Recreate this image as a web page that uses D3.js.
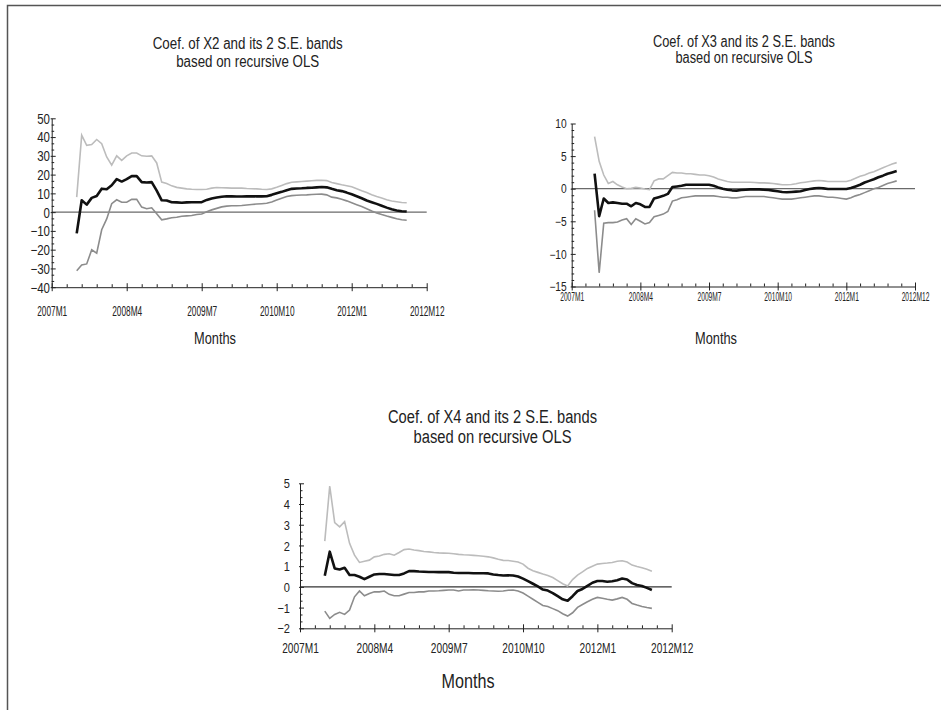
<!DOCTYPE html>
<html><head><meta charset="utf-8">
<script src="https://cdn.jsdelivr.net/npm/d3@7"></script>
<style>body{margin:0;background:#fff}svg{display:block}</style>
</head><body>
<svg id="chart" width="941" height="710"></svg>
<script>
// month index counted from 2007M1 (=0); data run from 2007M6 to 2012M12
const months = d3.range(5, 72);
const xTickValues = [0, 15, 30, 45, 60, 75];
const xTickLabels = ["2007M1", "2008M4", "2009M7", "2010M10", "2012M1", "2012M12"];
const xAxisTitle = "Months";

const x2Ticks = [-40, -30, -20, -10, 0, 10, 20, 30, 40, 50];
const x2Coef = [-11.3, 6.3, 4.0, 7.6, 8.6, 12.5, 12.2, 14.3, 17.6, 16.3,
  17.6, 19.2, 19.2, 16.0, 15.8, 16.0, 11.5, 6.3, 6.2, 5.3,
  5.2, 5.0, 5.2, 5.3, 5.3, 5.3, 6.5, 7.3, 7.8, 8.2,
  8.5, 8.4, 8.3, 8.3, 8.4, 8.5, 8.4, 8.4, 8.5, 9.2,
  10.0, 10.8, 11.7, 12.4, 12.6, 12.7, 12.9, 13.0, 13.2, 13.4,
  13.2, 12.4, 11.7, 11.2, 10.4, 9.5, 8.5, 7.4, 6.2, 5.3,
  4.4, 3.4, 2.4, 1.5, 0.9, 0.5, 0.3];
const x2Upper = [8, 41, 35.6, 36, 38.7, 36.5, 29.4, 25, 30, 27.6,
  30, 31.5, 31.5, 30, 29.8, 30, 26.2, 16, 15.2, 14,
  13.2, 12.8, 12.4, 12.2, 12.1, 12.1, 12.2, 12.8, 13.1, 13.0,
  12.9, 12.8, 12.8, 12.8, 12.6, 12.5, 12.4, 12.2, 12.1, 12.4,
  13.2, 14.2, 15.2, 15.9, 16.1, 16.3, 16.5, 16.7, 16.9, 17.0,
  16.8, 15.8, 15.2, 14.6, 14.1, 13.5, 12.5, 11.4, 10.4, 9.3,
  8.3, 7.5, 6.6, 5.9, 5.5, 5.1, 5.0];
const x2Lower = [-31.2, -28.2, -27.6, -20.1, -21.9, -9.4, -3.6, 4.5, 6.6, 5.3,
  5.3, 6.8, 6.8, 2.7, 1.8, 2.3, -0.9, -4.1, -3.6, -3.0,
  -2.7, -2.2, -2.0, -1.8, -1.3, -1.0, 0.2, 1.2, 2.0, 2.8,
  3.2, 3.4, 3.4, 3.5, 3.8, 4.1, 4.3, 4.5, 4.7, 5.4,
  6.4, 7.4, 8.3, 8.8, 9.0, 9.1, 9.2, 9.4, 9.5, 9.6,
  9.2, 8.0, 7.6, 6.9, 6.0, 5.0, 4.0, 3.0, 1.8, 0.6,
  -0.4, -1.3, -2.1, -2.8, -3.5, -4.1, -4.3];

const x3Ticks = [-15, -10, -5, 0, 5, 10];
const x3Coef = [2.3, -4.2, -1.5, -2.2, -2.1, -2.2, -2.3, -2.3, -2.7, -2.2,
  -2.4, -2.8, -2.8, -1.5, -1.3, -1.1, -0.8, 0.25, 0.35, 0.45,
  0.6, 0.6, 0.6, 0.6, 0.6, 0.6, 0.45, 0.2, 0.0, -0.15,
  -0.25, -0.3, -0.2, -0.15, -0.1, -0.1, -0.1, -0.15, -0.2, -0.3,
  -0.4, -0.5, -0.55, -0.5, -0.45, -0.4, -0.2, -0.05, 0.05, 0.1,
  0.05, -0.05, -0.05, -0.05, -0.05, -0.05, 0.1, 0.35, 0.6, 0.95,
  1.2, 1.45, 1.75, 2.0, 2.3, 2.5, 2.7];
const x3Upper = [8.0, 4.2, 2.1, 0.8, 1.1, 0.6, 0.25, 0.0, 0.05, 0.2,
  0.1, -0.05, -0.15, 1.2, 1.5, 1.5, 2.0, 2.5, 2.4, 2.4,
  2.3, 2.3, 2.2, 2.1, 2.1, 2.0, 1.8, 1.5, 1.3, 1.1,
  1.0, 1.0, 1.0, 1.0, 1.0, 0.95, 0.9, 0.9, 0.85, 0.8,
  0.7, 0.6, 0.6, 0.65, 0.75, 0.9, 1.0, 1.1, 1.2, 1.25,
  1.2, 1.1, 1.1, 1.1, 1.1, 1.1, 1.3, 1.6, 1.9, 2.1,
  2.4, 2.6, 2.9, 3.2, 3.5, 3.8, 4.0];
const x3Lower = [-3.3, -12.9, -5.3, -5.2, -5.2, -5.1, -4.8, -4.6, -5.5, -4.6,
  -5.0, -5.4, -5.2, -4.3, -4.1, -3.9, -3.5, -1.9, -1.7, -1.4,
  -1.3, -1.2, -1.1, -1.1, -1.1, -1.1, -1.1, -1.2, -1.3, -1.3,
  -1.4, -1.4, -1.3, -1.2, -1.2, -1.2, -1.2, -1.2, -1.3, -1.4,
  -1.5, -1.6, -1.6, -1.6, -1.5, -1.4, -1.3, -1.2, -1.1, -1.1,
  -1.2, -1.3, -1.3, -1.4, -1.5, -1.6, -1.4, -1.1, -0.9, -0.6,
  -0.3, 0.0, 0.2, 0.5, 0.8, 1.0, 1.2];

const x4Ticks = [-2, -1, 0, 1, 2, 3, 4, 5];
const x4Coef = [0.54, 1.70, 0.89, 0.84, 0.92, 0.57, 0.57, 0.49, 0.37, 0.49,
  0.6, 0.62, 0.62, 0.6, 0.57, 0.57, 0.65, 0.76, 0.76, 0.74,
  0.73, 0.72, 0.72, 0.71, 0.71, 0.71, 0.68, 0.67, 0.67, 0.67,
  0.66, 0.66, 0.66, 0.65, 0.6, 0.57, 0.55, 0.56, 0.55, 0.5,
  0.4, 0.28, 0.15, 0.02, -0.13, -0.18, -0.3, -0.45, -0.6, -0.67,
  -0.45, -0.2, -0.1, 0.05, 0.2, 0.28, 0.28, 0.25, 0.27, 0.32,
  0.4, 0.36, 0.18, 0.09, 0.04, -0.05, -0.15];
const x4Upper = [2.21, 4.87, 3.10, 2.90, 3.15, 2.1, 1.53, 1.18, 1.24, 1.29,
  1.45, 1.49, 1.57, 1.6, 1.53, 1.66, 1.8, 1.83, 1.78, 1.75,
  1.71, 1.69, 1.66, 1.64, 1.63, 1.62, 1.60, 1.57, 1.55, 1.54,
  1.52, 1.5, 1.48, 1.45, 1.4, 1.33, 1.28, 1.27, 1.24, 1.2,
  1.1, 0.9, 0.78, 0.7, 0.62, 0.55, 0.45, 0.3, 0.15, 0.04,
  0.35, 0.57, 0.72, 0.89, 1.0, 1.1, 1.13, 1.15, 1.18, 1.24,
  1.26, 1.2, 1.05, 0.98, 0.92, 0.85, 0.76];
const x4Lower = [-1.17, -1.52, -1.33, -1.23, -1.33, -1.12, -0.48, -0.2, -0.43, -0.32,
  -0.24, -0.24, -0.2, -0.36, -0.43, -0.43, -0.35, -0.27, -0.27, -0.24,
  -0.24, -0.2, -0.2, -0.19, -0.17, -0.15, -0.15, -0.2, -0.15, -0.15,
  -0.14, -0.15, -0.17, -0.19, -0.2, -0.21, -0.2, -0.16, -0.15, -0.2,
  -0.3, -0.45, -0.6, -0.75, -0.9, -0.95, -1.05, -1.15, -1.3, -1.41,
  -1.25, -0.99, -0.85, -0.72, -0.6, -0.51, -0.55, -0.6, -0.64, -0.58,
  -0.51, -0.6, -0.8, -0.88, -0.95, -1.0, -1.04];

const titles = {
  x2: ["Coef. of X2 and its 2 S.E. bands", "based on recursive OLS"],
  x3: ["Coef. of X3 and its 2 S.E. bands", "based on recursive OLS"],
  x4: ["Coef. of X4 and its 2 S.E. bands", "based on recursive OLS"]
};

const FONT = '"Liberation Sans Narrow","Arial Narrow","Liberation Sans",Arial,sans-serif';
const svg = d3.select("#chart");

// outer frame (only top and left edges visible)
svg.append("rect").attr("x", 7.5).attr("y", 5.5).attr("width", 1000).attr("height", 800)
  .attr("fill", "none").attr("stroke", "#555").attr("stroke-width", 1.5);

function squeeze(sel, factor) {
  sel.each(function () {
    const n = this.getComputedTextLength();
    d3.select(this).attr("textLength", n * factor).attr("lengthAdjust", "spacingAndGlyphs");
  });
}
function fitWidth(sel, w) {
  sel.attr("textLength", w).attr("lengthAdjust", "spacingAndGlyphs");
}

function drawPanel(cfg, ticks, minorStep, coef, upper, lower, title) {
  const x = d3.scaleLinear().domain([0, 75]).range([cfg.x0, cfg.x1]);
  const y = d3.scaleLinear().domain([ticks[0], ticks[ticks.length - 1]]).range([cfg.yBot, cfg.yTop]);
  const g = svg.append("g");
  const axisY = y(ticks[0]);

  // zero reference line
  g.append("line").attr("x1", x(0)).attr("x2", x(75)).attr("y1", y(0)).attr("y2", y(0))
    .attr("stroke", cfg.zeroColor).attr("stroke-width", 1.2);

  // x axis: major ticks with labels
  const xa = g.append("g").attr("transform", `translate(0,${axisY})`)
    .call(d3.axisBottom(x).tickValues(xTickValues).tickFormat((d, i) => xTickLabels[i]).tickSizeOuter(0));
  xa.select(".domain").attr("stroke", "#222");
  xa.selectAll(".tick line").attr("y1", -4).attr("y2", 4).attr("stroke", "#222");
  const xt = xa.selectAll(".tick text").attr("y", cfg.xLabBase - axisY).attr("dy", 0)
    .attr("font-family", FONT).attr("font-size", cfg.xLabSize).attr("fill", "#222");
  const refX = xt.filter((d, i) => i === 0).node().getComputedTextLength();
  squeeze(xt, cfg.xLabW / refX);
  // x axis minor ticks
  const xm = g.append("g").attr("transform", `translate(0,${axisY})`)
    .call(d3.axisBottom(x).tickValues(d3.range(0, 76, 3).filter(v => v % 15 !== 0)).tickSize(-3).tickFormat(""));
  xm.select(".domain").remove();
  xm.selectAll(".tick line").attr("stroke", "#222");

  // y axis
  const ya = g.append("g").attr("transform", `translate(${cfg.x0},0)`)
    .call(d3.axisLeft(y).tickValues(ticks).tickFormat(d3.format("d")).tickSizeOuter(0));
  ya.select(".domain").attr("stroke", "#222");
  ya.selectAll(".tick line").attr("x1", -1).attr("x2", 4).attr("stroke", "#222");
  const yt = ya.selectAll(".tick text").attr("x", cfg.yLabRight - cfg.x0).attr("dy", "0.35em")
    .attr("font-family", FONT).attr("font-size", cfg.yLabSize).attr("fill", "#222");
  squeeze(yt, cfg.yLabSqueeze);
  const nMinor = Math.round((ticks[ticks.length - 1] - ticks[0]) / minorStep);
  const minorVals = d3.range(0, nMinor + 1).map(k => ticks[0] + k * minorStep)
    .filter(v => ticks.every(t => Math.abs(t - v) > 1e-6));
  const ym = g.append("g").attr("transform", `translate(${cfg.x0},0)`)
    .call(d3.axisLeft(y).tickValues(minorVals).tickSize(-2.5).tickFormat(""));
  ym.select(".domain").remove();
  ym.selectAll(".tick line").attr("stroke", "#222");

  // series lines
  const line = d3.line().x((d, i) => x(months[i])).y(d => y(d));
  g.append("path").datum(upper).attr("d", line).attr("fill", "none").attr("stroke", "#bcbcbc").attr("stroke-width", 1.6);
  g.append("path").datum(lower).attr("d", line).attr("fill", "none").attr("stroke", "#8c8c8c").attr("stroke-width", 1.6);
  g.append("path").datum(coef).attr("d", line).attr("fill", "none").attr("stroke", "#111").attr("stroke-width", 2.6)
    .attr("stroke-linejoin", "round");

  // titles
  title.forEach((t, k) => {
    const tt = g.append("text").attr("x", cfg.titleX).attr("y", cfg.titleBase[k]).attr("text-anchor", "middle")
      .attr("font-family", FONT).attr("font-size", cfg.titleSize).attr("fill", "#222").text(t);
    fitWidth(tt, cfg.titleW[k]);
  });
  const mt = g.append("text").attr("x", cfg.monthsX).attr("y", cfg.monthsBase).attr("text-anchor", "middle")
    .attr("font-family", FONT).attr("font-size", cfg.monthsSize).attr("fill", "#222").text(xAxisTitle);
  fitWidth(mt, cfg.monthsW);
}

drawPanel({x0: 51.7, x1: 426.7, yTop: 118.3, yBot: 287.2, zeroColor: "#6a6a6a",
  xLabBase: 316, xLabSize: 14, xLabW: 30, yLabRight: 50, yLabSize: 14, yLabSqueeze: 0.82,
  titleX: 247.7, titleBase: [49, 66.5], titleSize: 16, titleW: [190, 143],
  monthsX: 215, monthsBase: 344, monthsSize: 17, monthsW: 42},
  x2Ticks, 10 / 3, x2Coef, x2Upper, x2Lower, titles.x2);

drawPanel({x0: 571.7, x1: 915, yTop: 123.5, yBot: 286.5, zeroColor: "#6a6a6a",
  xLabBase: 300.5, xLabSize: 12, xLabW: 24, yLabRight: 566.7, yLabSize: 12, yLabSqueeze: 0.85,
  titleX: 744, titleBase: [46.7, 63.3], titleSize: 16, titleW: [182, 137],
  monthsX: 716, monthsBase: 344, monthsSize: 17, monthsW: 42},
  x3Ticks, 1, x3Coef, x3Upper, x3Lower, titles.x3);

drawPanel({x0: 300, x1: 671.7, yTop: 483.3, yBot: 628.3, zeroColor: "#333",
  xLabBase: 653, xLabSize: 15, xLabW: 36.7, yLabRight: 290, yLabSize: 13, yLabSqueeze: 0.85,
  titleX: 492.5, titleBase: [423.3, 442.7], titleSize: 18, titleW: [209, 158],
  monthsX: 468, monthsBase: 688, monthsSize: 20, monthsW: 53},
  x4Ticks, 1 / 3, x4Coef, x4Upper, x4Lower, titles.x4);
</script>
</body></html>
